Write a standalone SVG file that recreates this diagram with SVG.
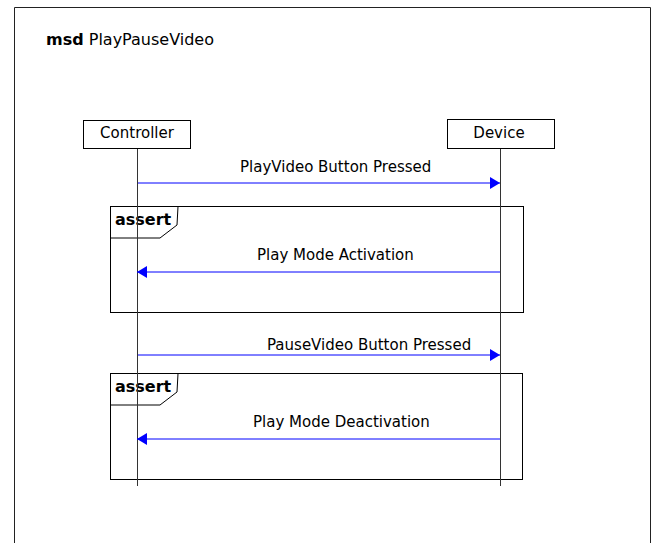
<svg xmlns="http://www.w3.org/2000/svg" width="657" height="543" viewBox="0 0 657 543">
  <style>
    text { font-family: "DejaVu Sans", "Liberation Sans", sans-serif; font-size: 15px; fill: #000; }
    .title { font-size: 16px; }
    .bold { font-weight: bold; }
    .tag { font-size: 16px; font-weight: bold; }
    .box { fill: #fff; stroke: #000; stroke-width: 1; }
    .life { stroke: #333; stroke-width: 1; fill: none; }
    .frag { fill: none; stroke: #000; stroke-width: 1; }
    .tab { fill: none; stroke: #000; stroke-width: 1; }
    .msg { stroke: #0000ff; stroke-width: 1; fill: none; }
  </style>
  <defs>
    <marker id="arrow" viewBox="0 0 10 12" refX="10" refY="6" markerWidth="10" markerHeight="12" markerUnits="userSpaceOnUse" orient="auto">
      <path d="M0,0 L10,6 L0,12 Z" fill="#0000ff"/>
    </marker>
  </defs>

  <rect width="657" height="543" fill="#fff"/>

  <!-- diagram frame -->
  <g id="frame">
    <path d="M14.5,560 V7.5 H650.5 V560" fill="none" stroke="#222" stroke-width="1"/>
    <text class="title" x="46" y="45"><tspan class="bold">msd</tspan> PlayPauseVideo</text>
  </g>

  <!-- combined fragments -->
  <g id="assert1">
    <rect class="frag" x="110.5" y="206.5" width="413" height="106"/>
    <path class="tab" d="M110.5,206.5 H178 L177,225 L160,238 H110.5 Z"/>
    <text class="tag" x="115" y="225">assert</text>
  </g>
  <g id="assert2">
    <rect class="frag" x="110.5" y="373.5" width="412" height="106"/>
    <path class="tab" d="M110.5,373.5 H178 L177,392 L160,405 H110.5 Z"/>
    <text class="tag" x="115" y="392">assert</text>
  </g>

  <!-- lifelines -->
  <g id="controller">
    <line class="life" x1="137.5" y1="148" x2="137.5" y2="486"/>
    <rect class="box" x="83.5" y="120.5" width="107" height="28"/>
    <text x="137" y="138" text-anchor="middle">Controller</text>
  </g>
  <g id="device">
    <line class="life" x1="500.5" y1="148" x2="500.5" y2="486"/>
    <rect class="box" x="447.5" y="119.5" width="107" height="29"/>
    <text x="499" y="138" text-anchor="middle">Device</text>
  </g>

  <!-- messages -->
  <g id="connectors">
    <line class="msg" x1="138" y1="183" x2="500" y2="183" marker-end="url(#arrow)"/>
    <text x="240" y="172">PlayVideo Button Pressed</text>

    <line class="msg" x1="500" y1="272" x2="137" y2="272" marker-end="url(#arrow)"/>
    <text x="257" y="260">Play Mode Activation</text>

    <line class="msg" x1="138" y1="355" x2="500" y2="355" marker-end="url(#arrow)"/>
    <text x="267" y="350">PauseVideo Button Pressed</text>

    <line class="msg" x1="500" y1="439" x2="137" y2="439" marker-end="url(#arrow)"/>
    <text x="253" y="427">Play Mode Deactivation</text>
  </g>
</svg>
